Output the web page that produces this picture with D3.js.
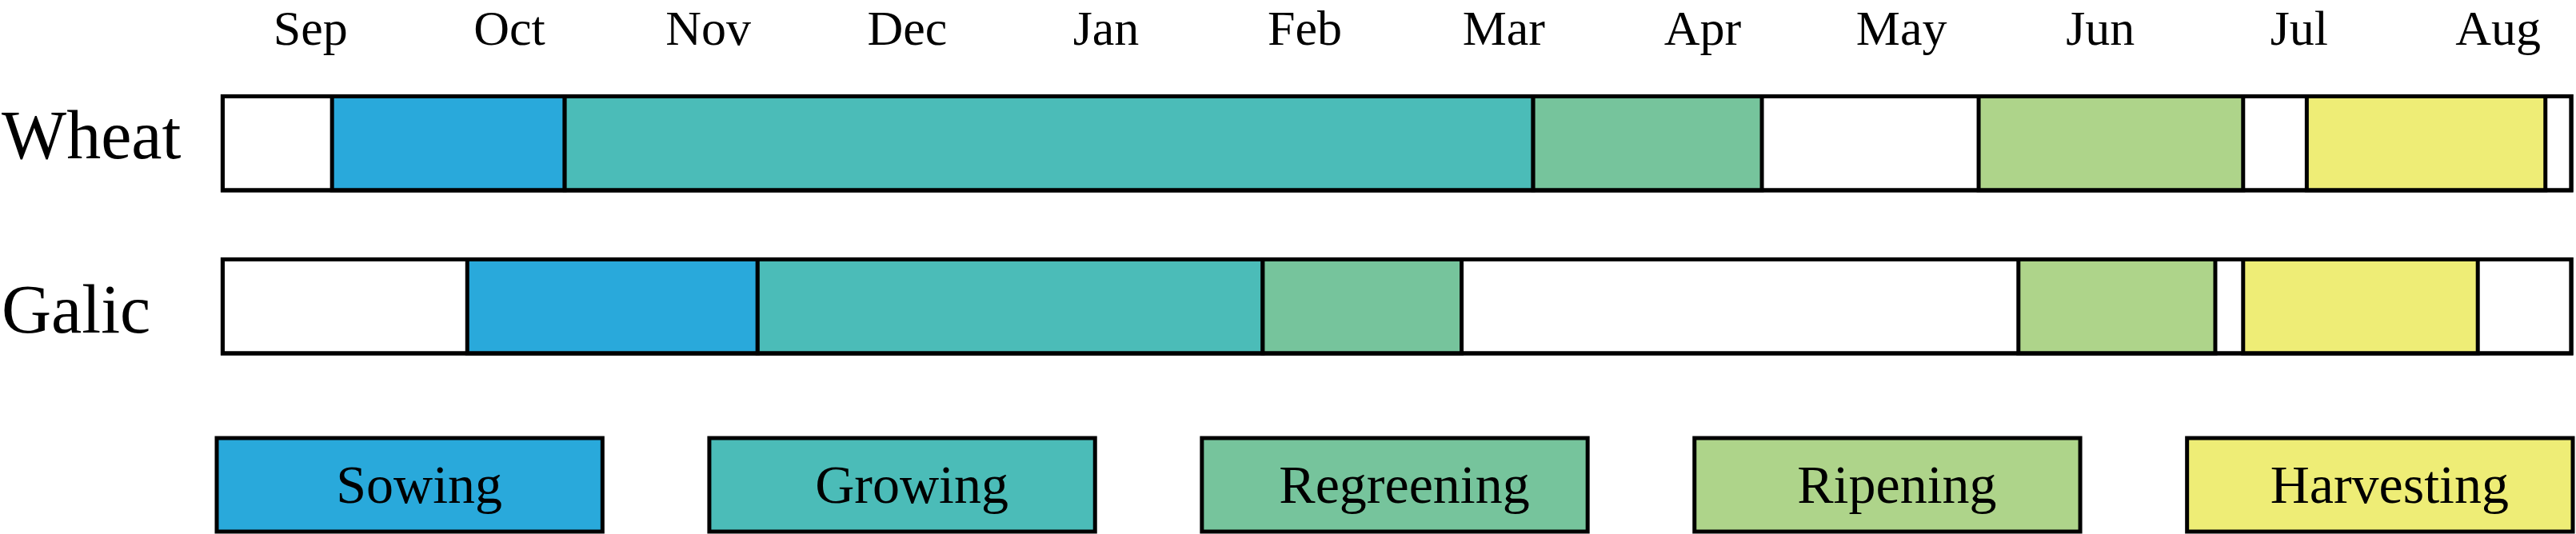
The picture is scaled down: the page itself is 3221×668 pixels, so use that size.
<!DOCTYPE html>
<html>
<head>
<meta charset="utf-8">
<script src="https://cdn.jsdelivr.net/npm/d3@7"></script>
<style>
  html, body { margin: 0; padding: 0; background: #ffffff; }
  svg { display: block; }
  text { font-family: "Liberation Serif", "DejaVu Serif", serif; fill: #000; }
</style>
</head>
<body>
<script>
// ---------- DATA (months counted from 1 Sep = 0) ----------
const months = ["Sep","Oct","Nov","Dec","Jan","Feb","Mar","Apr","May","Jun","Jul","Aug"];
const crops = ["Wheat","Galic"];
const stages = ["Sowing","Growing","Regreening","Ripening","Harvesting"];
const stageColors = ["#29a9db","#4bbcb8","#76c49c","#aed48a","#eeed76"];
const seasonStart = 0.06;
const seasonEnd = 11.87;
const wheatStart = [0.61, 1.78, 6.65, 8.89, 10.54];
const wheatEnd   = [1.78, 6.65, 7.80, 10.22, 11.74];
const galicStart = [1.29, 2.75, 5.29, 9.09, 10.22];
const galicEnd   = [2.75, 5.29, 6.29, 10.08, 11.40];

// ---------- BUILD ----------
const W = 3221, H = 668;
const svg = d3.select("body").append("svg").attr("width", W).attr("height", H);
svg.append("rect").attr("width", W).attr("height", H).attr("fill", "#fff");

const x = d3.scaleLinear().domain([0, 12]).range([263.5, 3247.4]);
const y = d3.scaleBand().domain(crops).range([120.5, 442]).paddingInner(0.424).paddingOuter(0);
const color = d3.scaleOrdinal().domain(stages).range(stageColors);

const cropSegments = {
  Wheat: stages.map((s, i) => ({stage: s, start: wheatStart[i], end: wheatEnd[i]})),
  Galic: stages.map((s, i) => ({stage: s, start: galicStart[i], end: galicEnd[i]}))
};

const SW = 5;

// month labels (axis on top, no line/ticks)
const axis = d3.axisTop(x)
  .tickValues(months.map((m, i) => i + 0.5))
  .tickFormat((d, i) => months[i])
  .tickSize(0).tickPadding(0);
const ag = svg.append("g").attr("transform", "translate(0,56)").call(axis);
ag.select(".domain").remove();
ag.selectAll("text")
  .attr("y", 0).attr("dy", 0)
  .style("font-family", '"Liberation Serif", serif')
  .style("font-size", "62px")
  .attr("fill", "#000");

// rows
const labelBaseline = {Wheat: 198, Galic: 416};
crops.forEach(c => {
  const g = svg.append("g");
  g.append("rect")
    .attr("x", x(seasonStart)).attr("y", y(c))
    .attr("width", x(seasonEnd) - x(seasonStart)).attr("height", y.bandwidth())
    .attr("fill", "#fff").attr("stroke", "#000").attr("stroke-width", SW);
  g.selectAll("rect.seg").data(cropSegments[c]).join("rect")
    .attr("class", "seg")
    .attr("x", d => x(d.start)).attr("y", y(c))
    .attr("width", d => x(d.end) - x(d.start)).attr("height", y.bandwidth())
    .attr("fill", d => color(d.stage)).attr("stroke", "#000").attr("stroke-width", SW);
  g.append("rect")
    .attr("x", x(seasonStart)).attr("y", y(c))
    .attr("width", x(seasonEnd) - x(seasonStart)).attr("height", y.bandwidth())
    .attr("fill", "none").attr("stroke", "#000").attr("stroke-width", SW);
  g.append("text")
    .attr("x", 2).attr("y", labelBaseline[c])
    .style("font-size", "86px")
    .text(c);
});

// legend
const lx = d3.scaleBand().domain(stages).range([271, 3217]).paddingInner(0.2169).paddingOuter(0);
const lg = svg.append("g");
const items = lg.selectAll("g").data(stages).join("g");
items.append("rect")
  .attr("x", d => lx(d)).attr("y", 548)
  .attr("width", lx.bandwidth()).attr("height", 117)
  .attr("fill", d => color(d)).attr("stroke", "#000").attr("stroke-width", SW);
items.append("text")
  .attr("x", d => lx(d) + lx.bandwidth() / 2 + 12).attr("y", 629)
  .attr("text-anchor", "middle")
  .style("font-size", "68px")
  .text(d => d);
</script>
</body>
</html>
